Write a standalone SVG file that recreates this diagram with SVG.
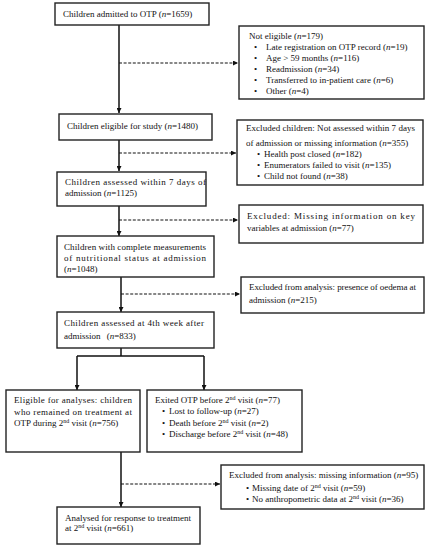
<svg xmlns="http://www.w3.org/2000/svg" width="430" height="550" viewBox="0 0 430 550">
<defs>
<marker id="ah" viewBox="0 0 10 10" refX="10" refY="5" markerWidth="5" markerHeight="5" markerUnits="userSpaceOnUse" orient="auto"><path d="M0,0 L10,5 L0,10 z" fill="#111"/></marker>
<style>
.box{fill:#fff;stroke:#222;stroke-width:1.4}
text{font-family:"Liberation Serif","Times New Roman",serif;font-size:9px;fill:#111}
.i{font-style:italic}
.sup{font-size:6px}
.solid{fill:none;stroke:#111;stroke-width:1.5}
.dash{fill:none;stroke:#111;stroke-width:1.2;stroke-dasharray:3,1.6}
</style>
</defs>
<rect width="430" height="550" fill="#fff"/>
<g id="connectors">
<path class="solid" d="M119,25 V113" marker-end="url(#ah)"/>
<path class="dash" d="M119,63 H238" marker-end="url(#ah)"/>
<path class="solid" d="M119,140 V171" marker-end="url(#ah)"/>
<path class="dash" d="M119,153 H236" marker-end="url(#ah)"/>
<path class="solid" d="M119,206 V236" marker-end="url(#ah)"/>
<path class="dash" d="M119,220 H238" marker-end="url(#ah)"/>
<path class="solid" d="M121,277 V312" marker-end="url(#ah)"/>
<path class="dash" d="M121,294 H240" marker-end="url(#ah)"/>
<path class="solid" d="M121,348 V356 M77,356 H204"/>
<path class="solid" d="M77,356 V390" marker-end="url(#ah)"/>
<path class="solid" d="M204,356 V390" marker-end="url(#ah)"/>
<path class="solid" d="M121,452 V507" marker-end="url(#ah)"/>
<path class="dash" d="M121,484 H220" marker-end="url(#ah)"/>
</g>
<g id="n1">
<rect class="box" x="55" y="3" width="154" height="22"/>
<text x="63" y="17">Children admitted to OTP (<tspan class="i">n</tspan>=1659)</text>
</g>
<g id="n_noteligible">
<rect class="box" x="239" y="26" width="185" height="73"/>
<text x="249" y="39">Not eligible (<tspan class="i">n</tspan>=179)</text>
<text x="254" y="50">•</text><text x="266" y="50">Late registration on OTP record (<tspan class="i">n</tspan>=19)</text>
<text x="254" y="61">•</text><text x="266" y="61">Age &gt; 59 months (<tspan class="i">n</tspan>=116)</text>
<text x="254" y="72">•</text><text x="266" y="72">Readmission (<tspan class="i">n</tspan>=34)</text>
<text x="254" y="83">•</text><text x="266" y="83">Transferred to in-patient care (<tspan class="i">n</tspan>=6)</text>
<text x="254" y="94">•</text><text x="266" y="94">Other (<tspan class="i">n</tspan>=4)</text>
</g>
<g id="n2">
<rect class="box" x="59" y="114" width="153" height="26"/>
<text x="67" y="129">Children eligible for study (<tspan class="i">n</tspan>=1480)</text>
</g>
<g id="n_excl1">
<rect class="box" x="237" y="120" width="186" height="65"/>
<text x="246" y="131" textLength="169" lengthAdjust="spacing">Excluded children: Not assessed within 7 days</text>
<text x="246" y="146">of admission or missing information (<tspan class="i">n</tspan>=355)</text>
<text x="257" y="157">•</text><text x="264" y="157">Health post closed (<tspan class="i">n</tspan>=182)</text>
<text x="257" y="168">•</text><text x="264" y="168">Enumerators failed to visit (<tspan class="i">n</tspan>=135)</text>
<text x="257" y="179">•</text><text x="264" y="179">Child not found (<tspan class="i">n</tspan>=38)</text>
</g>
<g id="n3">
<rect class="box" x="57" y="172" width="149" height="34"/>
<text x="65" y="185" textLength="141" lengthAdjust="spacing">Children assessed within 7 days of</text>
<text x="65" y="196">admission (<tspan class="i">n</tspan>=1125)</text>
</g>
<g id="n_excl2">
<rect class="box" x="239" y="205" width="184" height="38"/>
<text x="247" y="219" textLength="168" lengthAdjust="spacing">Excluded: Missing information on key</text>
<text x="247" y="231">variables at admission (<tspan class="i">n</tspan>=77)</text>
</g>
<g id="n4">
<rect class="box" x="57" y="236" width="157" height="41"/>
<text x="64" y="250" textLength="142" lengthAdjust="spacing">Children with complete measurements</text>
<text x="64" y="261" textLength="142" lengthAdjust="spacing">of nutritional status at admission</text>
<text x="64" y="272">(<tspan class="i">n</tspan>=1048)</text>
</g>
<g id="n_excl3">
<rect class="box" x="241" y="277" width="183" height="36"/>
<text x="249" y="290" textLength="167" lengthAdjust="spacing">Excluded from analysis: presence of oedema at</text>
<text x="249" y="303">admission (<tspan class="i">n</tspan>=215)</text>
</g>
<g id="n5">
<rect class="box" x="57" y="312" width="157" height="36"/>
<text x="64" y="326" textLength="140" lengthAdjust="spacing">Children assessed at 4th week after</text>
<text x="64" y="339">admission <tspan dx="4">(</tspan><tspan class="i">n</tspan>=833)</text>
</g>
<g id="n6">
<rect class="box" x="6" y="390" width="134" height="62"/>
<text x="14" y="403" textLength="118" lengthAdjust="spacing">Eligible for analyses: children</text>
<text x="14" y="415" textLength="118" lengthAdjust="spacing">who remained on treatment at</text>
<text x="14" y="426">OTP during 2<tspan class="sup" dy="-3">nd</tspan><tspan dy="3"> visit (</tspan><tspan class="i">n</tspan>=756)</text>
</g>
<g id="n7">
<rect class="box" x="147" y="390" width="155" height="62"/>
<text x="155" y="403">Exited OTP before 2<tspan class="sup" dy="-3">nd</tspan><tspan dy="3"> visit (</tspan><tspan class="i">n</tspan>=77)</text>
<text x="162" y="414">•</text><text x="169" y="414">Lost to follow-up (<tspan class="i">n</tspan>=27)</text>
<text x="162" y="426">•</text><text x="169" y="426">Death before 2<tspan class="sup" dy="-3">nd</tspan><tspan dy="3"> visit (</tspan><tspan class="i">n</tspan>=2)</text>
<text x="162" y="437">•</text><text x="169" y="437">Discharge before 2<tspan class="sup" dy="-3">nd</tspan><tspan dy="3"> visit (</tspan><tspan class="i">n</tspan>=48)</text>
</g>
<g id="n_excl4">
<rect class="box" x="221" y="465" width="203" height="44"/>
<text x="229" y="478">Excluded from analysis: missing information (<tspan class="i">n</tspan>=95)</text>
<text x="246" y="491">•</text><text x="252" y="491">Missing date of 2<tspan class="sup" dy="-3">nd</tspan><tspan dy="3"> visit (</tspan><tspan class="i">n</tspan>=59)</text>
<text x="246" y="502">•</text><text x="252" y="502">No anthropometric data at 2<tspan class="sup" dy="-3">nd</tspan><tspan dy="3"> visit (</tspan><tspan class="i">n</tspan>=36)</text>
</g>
<g id="n8">
<rect class="box" x="57" y="507" width="143" height="37"/>
<text x="65" y="521">Analysed for response to treatment</text>
<text x="65" y="531">at 2<tspan class="sup" dy="-3">nd</tspan><tspan dy="3"> visit (</tspan><tspan class="i">n</tspan>=661)</text>
</g>
</svg>
